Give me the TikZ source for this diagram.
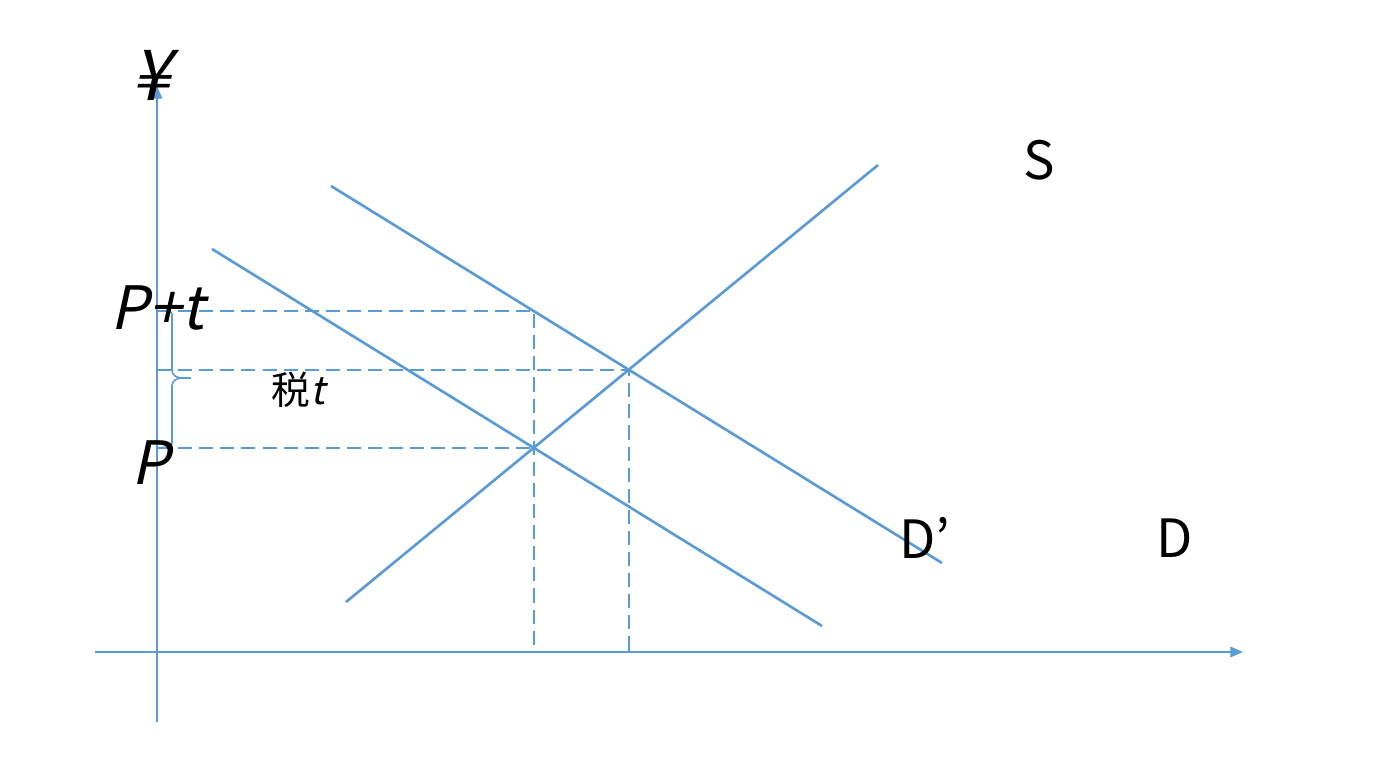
\documentclass[tikz,border=0pt]{standalone}
\usepackage{fontspec}
\setmainfont{Noto Sans CJK JP}
\newfontfamily\slfont[FakeSlant=0.22]{Noto Sans CJK JP}
\usepackage{tikz}
\usetikzlibrary{arrows.meta, calc}
\definecolor{myblue}{RGB}{91,155,213}
\tikzset{
  axis/.style={-{Triangle[length=3.6pt, width=3pt]}, line width=0.5pt, color=myblue},
  curve/.style={line width=0.75pt, color=myblue},
  guide/.style={line width=0.45pt, color=myblue, dash pattern=on 4pt off 2pt},
  brace/.style={line width=0.45pt, color=myblue, rounded corners=1pt},
  lbl/.style={font=\fontsize{15}{15}\selectfont, inner sep=0pt},
  itlbl/.style={font=\fontsize{17}{17}\selectfont\slfont, inner sep=0pt}
}

\begin{document}
\begin{tikzpicture}[x=0.01cm, y=-0.01cm]
  \useasboundingbox (0,0) rectangle (1376,762);

  % Axes
  \coordinate (O) at (157,652);
  \coordinate (ytop) at (157,86);
  \coordinate (ybot) at (157,722);
  \coordinate (xleft) at (95,652);
  \coordinate (xright) at (1243,652);
  \draw[axis] (ybot) -- (ytop);
  \draw[axis] (xleft) -- (xright);

  % Supply and demand lines
  \coordinate (Sa) at (346,602);
  \coordinate (Sb) at (878,165);
  \coordinate (Da) at (212,249);
  \coordinate (Db) at (822,626);
  \coordinate (Dpa) at (331,186);
  \coordinate (Dpb) at (942,563);
  \draw[curve] (Sa) -- (Sb);
  \draw[curve] (Da) -- (Db);
  \draw[curve] (Dpa) -- (Dpb);

  % Equilibria
  \coordinate (E0) at (intersection of Sa--Sb and Da--Db);
  \coordinate (E1) at (intersection of Sa--Sb and Dpa--Dpb);
  \coordinate (F) at (intersection of E0--{$(E0)+(0,-400)$} and Dpa--Dpb);

  % Dashed guides
  \draw[guide] (O |- F) -- (F) -- (F |- O);
  \draw[guide] (O |- E1) -- (E1) -- (E1 |- O);
  \draw[guide] (O |- E0) -- (E0);

  % Tax brace
  \draw[brace] (O |- F) -- (172,311) -- (172,374) -- (178,378) -- (193,378)
    -- (178,378) -- (172,382) -- (172,447) -- (O |- E0);

  % Labels
  \node[itlbl, font=\fontsize{20}{20}\selectfont\slfont] (yen) at (151,75) {¥};
  \node[lbl] (Slbl) at (1039,160) {S};
  \node[lbl] (Dplbl) at (925,538) {D’};
  \node[lbl] (Dlbl) at (1175,538) {D};
  \node[itlbl] (Pt) at (157,308) {P+t};
  \node[itlbl] (P) at (150,463) {P};
  \node[font=\fontsize{11}{11}\selectfont, inner sep=0pt] (tax) at (298,390) {税{\slfont t}};
\end{tikzpicture}
\end{document}
